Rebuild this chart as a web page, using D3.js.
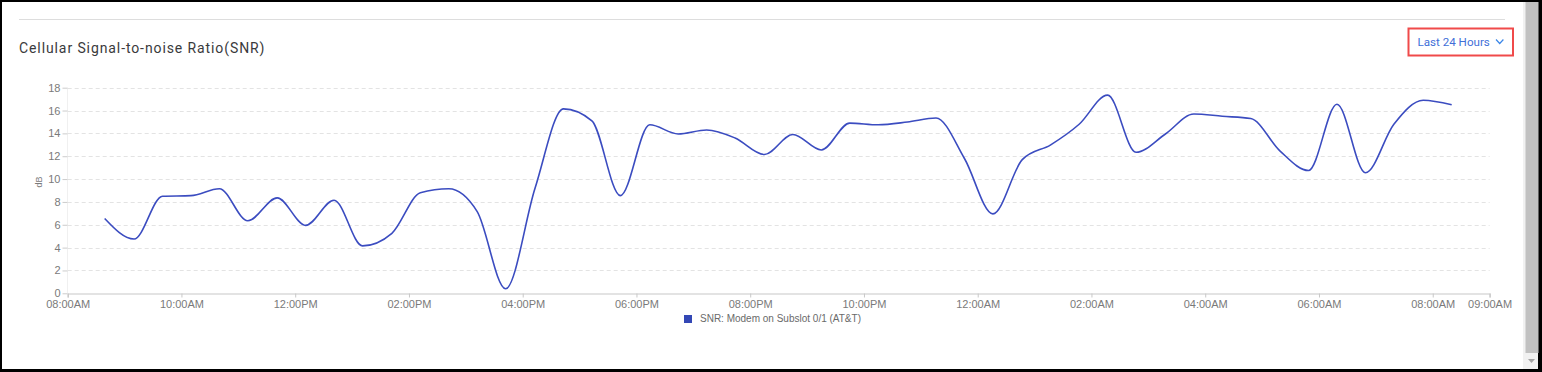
<!DOCTYPE html>
<html>
<head>
<meta charset="utf-8">
<script src="https://cdn.jsdelivr.net/npm/d3@7"></script>
<style>
  body { margin: 0; background: #fff; }
  svg { display: block; }
</style>
</head>
<body>
<div id="chart"></div>
<script>
// data
var times = [
  "2024-03-11 08:39", "2024-03-11 09:10", "2024-03-11 09:40", "2024-03-11 10:10",
  "2024-03-11 10:40", "2024-03-11 11:10", "2024-03-11 11:41", "2024-03-11 12:11",
  "2024-03-11 12:41", "2024-03-11 13:11", "2024-03-11 13:42", "2024-03-11 14:12",
  "2024-03-11 14:42", "2024-03-11 15:12", "2024-03-11 15:42", "2024-03-11 16:13",
  "2024-03-11 16:43", "2024-03-11 17:13", "2024-03-11 17:43", "2024-03-11 18:14",
  "2024-03-11 18:44", "2024-03-11 19:14", "2024-03-11 19:44", "2024-03-11 20:15",
  "2024-03-11 20:45", "2024-03-11 21:15", "2024-03-11 21:45", "2024-03-11 22:15",
  "2024-03-11 22:46", "2024-03-11 23:16", "2024-03-11 23:46", "2024-03-12 00:16",
  "2024-03-12 00:47", "2024-03-12 01:17", "2024-03-12 01:47", "2024-03-12 02:17",
  "2024-03-12 02:47", "2024-03-12 03:18", "2024-03-12 03:48", "2024-03-12 04:18",
  "2024-03-12 04:48", "2024-03-12 05:19", "2024-03-12 05:49", "2024-03-12 06:19",
  "2024-03-12 06:49", "2024-03-12 07:19", "2024-03-12 07:50", "2024-03-12 08:20"
];
var snr = [
  6.55, 4.75, 8.5, 8.55, 9.15, 6.35, 8.35, 5.95, 8.15, 4.15, 5.25, 8.8,
  9.15, 7.15, 0.4, 9.2, 16.15, 15.1, 8.55, 14.75, 13.95, 14.3, 13.6, 12.15,
  13.9, 12.55, 14.9, 14.75, 15.0, 15.35, 11.8, 6.95, 11.7, 13.0, 14.8, 17.35,
  12.35, 13.95, 15.7, 15.5, 15.3, 12.45, 10.75, 16.55, 10.55, 14.8, 16.9, 16.5
];
var yTicks = [0, 2, 4, 6, 8, 10, 12, 14, 16, 18];
var xTickTimes = [
  "2024-03-11 08:00", "2024-03-11 10:00", "2024-03-11 12:00", "2024-03-11 14:00",
  "2024-03-11 16:00", "2024-03-11 18:00", "2024-03-11 20:00", "2024-03-11 22:00",
  "2024-03-12 00:00", "2024-03-12 02:00", "2024-03-12 04:00", "2024-03-12 06:00",
  "2024-03-12 08:00", "2024-03-12 09:00"
];
var title = "Cellular Signal-to-noise Ratio(SNR)";
var seriesName = "SNR: Modem on Subslot 0/1 (AT&T)";
var rangeLabel = "Last 24 Hours";
var yLabel = "dB";

var parseTime = d3.timeParse("%Y-%m-%d %H:%M");
var data = times.map(function(t, i) { return { date: parseTime(t), value: snr[i] }; });
var tickDates = xTickTimes.map(parseTime);

var svgWidth = 1542, svgHeight = 372;
var lineColor = "#3b4cc0";

var svg = d3.select("#chart").append("svg")
  .attr("width", svgWidth)
  .attr("height", svgHeight);

// outer frame
svg.append("rect").attr("width", svgWidth).attr("height", svgHeight).attr("fill", "#000");
svg.append("rect").attr("x", 2).attr("y", 2).attr("width", 1536).attr("height", 367).attr("fill", "#fff");

// scrollbar
svg.append("rect").attr("x", 1523).attr("y", 2).attr("width", 15).attr("height", 367).attr("fill", "#f1f1f1");
svg.append("rect").attr("x", 1525.5).attr("y", 2).attr("width", 13).attr("height", 351).attr("fill", "#c1c1c1");
svg.append("path").attr("d", "M1528,359 L1535,359 L1531.5,363 Z").attr("fill", "#a3a3a3");

// top separator
svg.append("line")
  .attr("x1", 19).attr("x2", 1505).attr("y1", 19.5).attr("y2", 19.5)
  .attr("stroke", "#dddddd");

// title
svg.append("text")
  .attr("x", 19).attr("y", 53)
  .attr("font-family", "Roboto, 'Liberation Sans', Arial, sans-serif")
  .attr("font-size", 14)
  .attr("letter-spacing", 0.9)
  .attr("fill", "#3a3a3c")
  .text(title);

// range selector
svg.append("rect")
  .attr("x", 1408.5).attr("y", 28.5).attr("width", 104.5).attr("height", 27)
  .attr("fill", "none").attr("stroke", "#f04a4a").attr("stroke-width", 2);
svg.append("text")
  .attr("x", 1417.5).attr("y", 46)
  .attr("font-family", "Roboto, 'Liberation Sans', Arial, sans-serif")
  .attr("font-size", 11.6)
  .attr("fill", "#3f6fd8")
  .text(rangeLabel);
svg.append("path")
  .attr("d", "M1496,39.5 L1499.7,43.5 L1503.4,39.5")
  .attr("fill", "none").attr("stroke", "#3a86e8").attr("stroke-width", 1.2);

// chart area
var x = d3.scaleTime()
  .domain([tickDates[0], tickDates[tickDates.length - 1]])
  .range([67.7, 1489.6]);
var y = d3.scaleLinear()
  .domain([0, 18])
  .range([293.3, 87.7]);

// grid
svg.append("g").selectAll("line")
  .data(yTicks.slice(1))
  .enter().append("line")
  .attr("x1", x.range()[0]).attr("x2", x.range()[1])
  .attr("y1", function(d) { return Math.round(y(d)) + 0.5; })
  .attr("y2", function(d) { return Math.round(y(d)) + 0.5; })
  .attr("stroke", "#e3e3e3")
  .attr("stroke-dasharray", "4,3");

// faint y axis line
svg.append("line")
  .attr("x1", 67.5).attr("x2", 67.5).attr("y1", 87.7).attr("y2", 293.3)
  .attr("stroke", "#f0f0f0");

var yAxis = d3.axisLeft(y).tickValues(yTicks).tickSize(5).tickPadding(2);
var gy = svg.append("g").attr("transform", "translate(67.5,0)").call(yAxis);
gy.select(".domain").remove();
gy.selectAll(".tick line").attr("stroke", "#cccccc");
gy.selectAll(".tick text")
  .attr("fill", "#7a7a7a")
  .attr("font-size", 11)
  .attr("font-family", "'Liberation Sans', Arial, sans-serif");

var xAxis = d3.axisBottom(x).tickValues(tickDates).tickSize(4).tickPadding(3)
  .tickFormat(d3.timeFormat("%I:%M%p"));
var gx = svg.append("g").attr("transform", "translate(0,293.5)").call(xAxis);
gx.select(".domain").attr("stroke", "#c8c8c8").attr("stroke-width", 1.2);
gx.selectAll(".tick line").attr("stroke", "#c8c8c8");
gx.selectAll(".tick text")
  .attr("fill", "#7a7a7a")
  .attr("font-size", 11)
  .attr("font-family", "'Liberation Sans', Arial, sans-serif");

// y label
svg.append("text")
  .attr("transform", "translate(42,182) rotate(-90)")
  .attr("text-anchor", "middle")
  .attr("font-size", 9)
  .attr("font-family", "'Liberation Sans', Arial, sans-serif")
  .attr("fill", "#7a7a7a")
  .text(yLabel);

// line
var line = d3.line()
  .curve(d3.curveMonotoneX)
  .x(function(d) { return x(d.date); })
  .y(function(d) { return y(d.value); });
svg.append("path")
  .datum(data)
  .attr("d", line)
  .attr("fill", "none")
  .attr("stroke", lineColor)
  .attr("stroke-width", 1.6);

// legend
svg.append("rect")
  .attr("x", 684).attr("y", 315).attr("width", 8).attr("height", 8)
  .attr("fill", "#3347b5");
svg.append("text")
  .attr("x", 700).attr("y", 322)
  .attr("font-size", 10)
  .attr("font-family", "'Liberation Sans', Arial, sans-serif")
  .attr("fill", "#6a6a6a")
  .text(seriesName);
</script>
</body>
</html>
